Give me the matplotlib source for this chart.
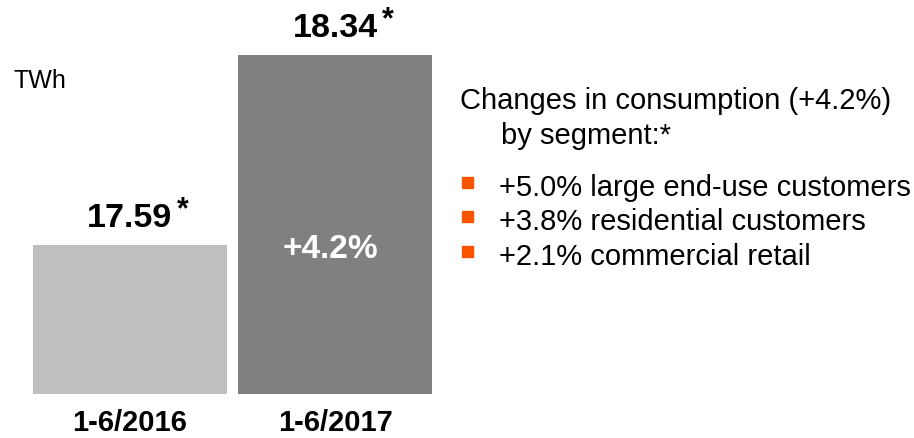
import matplotlib.pyplot as plt
from matplotlib.patches import Rectangle
from matplotlib.transforms import blended_transform_factory

plt.rcParams['font.family'] = ['Liberation Sans', 'DejaVu Sans']

# data
periods = ["1-6/2016", "1-6/2017"]
consumption = [17.59, 18.34]
bar_colors = ["#bfbfbf", "#808080"]
change_total = "+4.2%"
segment_title = ["Changes in consumption (+4.2%)", "by segment:*"]
segments = ["+5.0% large end-use customers",
            "+3.8% residential customers",
            "+2.1% commercial retail"]
orange = "#fb5400"

fig = plt.figure(figsize=(9.14, 4.38), dpi=100)
ax = fig.add_axes([33 / 914, 44 / 438, 399 / 914, 394 / 438])

x = range(len(periods))
ax.bar(x, consumption, width=0.946, color=bar_colors)
ax.set_xlim(-0.473, 1.473)
ax.set_ylim(17.0, 17.0 + 394 / 253.3)

for s in ax.spines.values():
    s.set_visible(False)
ax.set_yticks([])
ax.set_xticks(list(x))
ax.set_xticklabels(periods, fontsize=21, fontweight="bold")
ax.tick_params(axis="x", length=0, pad=11)

# value labels with asterisk
for i, v in enumerate(consumption):
    ax.annotate(f"{v:.2f}", (i, v), xytext=(0, 12.5), textcoords="offset points",
                ha="center", va="baseline", fontsize=24.5, fontweight="bold")
    ax.annotate("*", (i, v), xytext=(34, 19), textcoords="offset points",
                ha="left", va="baseline", fontsize=22, fontweight="bold")

# change inside second bar
trans = blended_transform_factory(ax.transData, ax.transAxes)
ax.text(0.98, 0.366, change_total, transform=trans, ha="center", va="center",
        color="white", fontsize=24, fontweight="bold")

fig.text(13 / 914, 1 - 88 / 438, "TWh", fontsize=18, va="baseline")

# right-hand commentary
fig.text(460 / 914, 1 - 109 / 438, segment_title[0], fontsize=21, va="baseline")
fig.text(501 / 914, 1 - 144 / 438, segment_title[1], fontsize=21, va="baseline")
for k, seg in enumerate(segments):
    base = 196 + k * 34.5
    fig.text(499 / 914, 1 - base / 438, seg, fontsize=21, va="baseline")
    fig.patches.append(Rectangle((462 / 914, 1 - (base - 8) / 438), 11 / 914, 11 / 438,
                                 transform=fig.transFigure, color=orange))

fig.savefig("out.png", dpi=100)
